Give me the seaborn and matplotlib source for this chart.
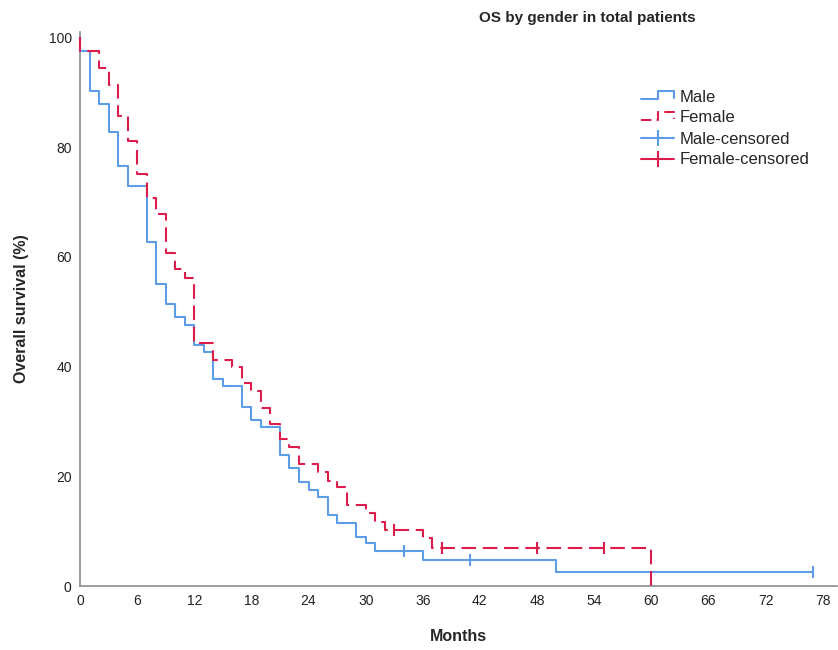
import numpy as np
import pandas as pd
import matplotlib
matplotlib.use("Agg")
import matplotlib.pyplot as plt
from matplotlib.lines import Line2D
from matplotlib.legend_handler import HandlerBase
import seaborn as sns

# Kaplan-Meier step values (time in months, survival in %)
male_times = [0, 1, 2, 3, 4, 5, 7, 8, 9, 10, 11, 12, 13, 14, 15, 17, 18, 19,
              21, 22, 23, 24, 25, 26, 27, 29, 30, 31, 36, 50]
male_surv = [97.6, 90.3, 87.8, 82.7, 76.5, 72.9, 62.7, 55.1, 51.5, 49.0, 47.6,
             44.0, 42.7, 37.7, 36.4, 32.7, 30.3, 28.9, 23.9, 21.5, 18.9, 17.5,
             16.3, 13.0, 11.4, 8.9, 7.8, 6.4, 4.7, 2.5]
male_censored = [34, 41, 77]

female_times = [0, 2, 3, 4, 5, 6, 7, 8, 9, 10, 11, 12, 14, 16, 17, 18, 19, 20,
                21, 22, 23, 25, 26, 27, 28, 30, 31, 32, 36, 37, 60]
female_surv = [97.5, 94.5, 91.4, 85.6, 81.1, 75.2, 70.7, 67.9, 60.7, 57.8,
               56.1, 44.3, 41.2, 39.9, 37.1, 35.5, 32.4, 29.5, 26.8, 25.3,
               22.3, 20.7, 19.2, 18.0, 14.8, 13.3, 11.7, 10.3, 8.7, 7.0, 0.0]
female_censored = [33, 38, 48, 55]

x_ticks = list(range(0, 79, 6))
y_ticks = [0, 20, 40, 60, 80, 100]

BLUE = "#5d9ce6"
RED = "#dc1d4b"
GRAY = "#8c8c8c"


def step_frame(times, surv, label, end=None):
    t = [0.0] + list(times)
    s = [100.0] + list(surv)
    if end is not None and end > t[-1]:
        t.append(end)
        s.append(s[-1])
    return pd.DataFrame({"Months": t, "Survival": s, "Group": label})


def surv_at(times, surv, when):
    val = 100.0
    for t, s in zip(times, surv):
        if t <= when:
            val = s
    return val


curves = pd.concat([
    step_frame(male_times, male_surv, "Male", end=max(male_censored)),
    step_frame(female_times, female_surv, "Female"),
], ignore_index=True)

cens = pd.DataFrame({
    "Months": male_censored + female_censored,
    "Survival": [surv_at(male_times, male_surv, c) for c in male_censored]
    + [surv_at(female_times, female_surv, c) for c in female_censored],
    "Group": ["Male"] * len(male_censored) + ["Female"] * len(female_censored),
})

sns.set_theme(style="white")
plt.rcParams["font.family"] = ["Liberation Sans", "DejaVu Sans"]

fig = plt.figure(figsize=(8.38, 6.5), dpi=100)
ax = fig.add_axes([80 / 838, 64 / 650, 757 / 838, 554 / 650])

palette = {"Male": BLUE, "Female": RED}
sns.lineplot(data=curves, x="Months", y="Survival", hue="Group", style="Group",
             palette=palette, dashes={"Male": "", "Female": (7, 3.2)},
             estimator=None, sort=False, drawstyle="steps-post",
             linewidth=1.5, legend=False, ax=ax)
for ln in ax.get_lines():
    ln.set_clip_on(False)
for grp, col in palette.items():
    sub = cens[cens["Group"] == grp]
    ax.plot(sub["Months"], sub["Survival"], linestyle="none", marker="|",
            markersize=8, markeredgewidth=1.5, color=col)

ax.set_xlim(0, 79.5)
ax.set_ylim(0, 101)
ax.set_xticks(x_ticks)
ax.set_yticks(y_ticks)
ax.tick_params(length=0, labelsize=10, colors="#222222", pad=6)
for side in ["top", "right"]:
    ax.spines[side].set_visible(False)
for side in ["left", "bottom"]:
    ax.spines[side].set_color(GRAY)
    ax.spines[side].set_linewidth(1.2)
    ax.spines[side].set_zorder(0.5)
ax.grid(False)

ax.set_xlabel("Months", fontsize=11.5, fontweight="bold", labelpad=15)
ax.set_ylabel("Overall survival (%)", fontsize=11.5, fontweight="bold", labelpad=14)

fig.text(587 / 838, 1 - 18 / 650, "OS by gender in total patients",
         ha="center", va="center", fontsize=11, fontweight="bold")


class StepHandler(HandlerBase):
    def create_artists(self, legend, orig_handle, xdescent, ydescent,
                       width, height, fontsize, trans):
        x0 = -xdescent
        y0 = -ydescent
        xs = [x0, x0 + 0.5 * width, x0 + 0.5 * width, x0 + width, x0 + width]
        ys = [y0 + 0.2 * height, y0 + 0.2 * height, y0 + 0.9 * height,
              y0 + 0.9 * height, y0 + 0.3 * height]
        line = Line2D(xs, ys, color=orig_handle.get_color(),
                      linestyle=orig_handle.get_linestyle(),
                      linewidth=orig_handle.get_linewidth(), transform=trans)
        if orig_handle.get_linestyle() not in ("-", "solid"):
            line.set_dashes((5, 2.5))
        return [line]


h_male = Line2D([], [], color=BLUE, linewidth=1.5)
h_female = Line2D([], [], color=RED, linewidth=1.5, linestyle="--")
h_mc = Line2D([], [], color=BLUE, linewidth=1.5, marker="|",
              markersize=11, markeredgewidth=1.5)
h_fc = Line2D([], [], color=RED, linewidth=1.5, marker="|",
              markersize=11, markeredgewidth=1.5)
fig.legend([h_male, h_female, h_mc, h_fc],
           ["Male", "Female", "Male-censored", "Female-censored"],
           handler_map={h_male: StepHandler(), h_female: StepHandler()},
           loc="upper left", bbox_to_anchor=(641 / 838, 1 - 89.5 / 650),
           frameon=False, fontsize=12, handlelength=2.0, handletextpad=0.3,
           labelspacing=0.36, borderpad=0, borderaxespad=0, numpoints=1)

fig.savefig("out.png", dpi=100)
